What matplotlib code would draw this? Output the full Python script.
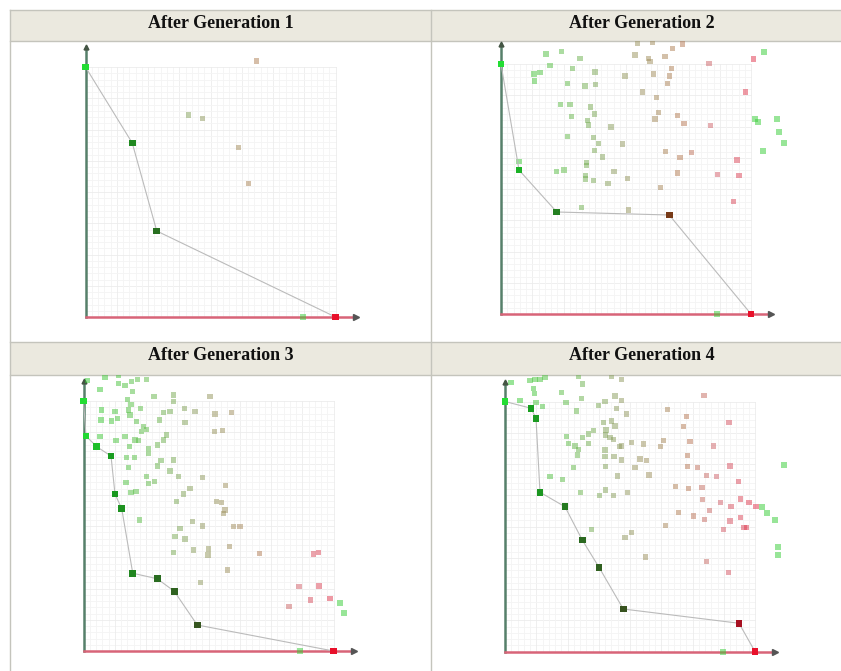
import matplotlib.pyplot as plt
import matplotlib.colors as mcolors
from matplotlib.patches import Rectangle
import numpy as np

titles = ["After Generation 1", "After Generation 2", "After Generation 3", "After Generation 4"]

# objective values, both normalised to 0..100
front1_x = [0, 18.7, 28.5, 100]
front1_y = [100, 69.6, 34.4, 0]
pop1_x = [68.5, 41.1, 46.7, 61.1, 65.3]
pop1_y = [102.4, 80.8, 79.3, 67.7, 53.5]
extra1_x = [87]
extra1_y = [0]

front2_x = [0, 7.2, 22.3, 67.3, 100]
front2_y = [100, 57.6, 40.8, 39.6, 0]
pop2_x = [54.5, 60.5, 68.5, 72.5, 18.0, 24.3, 31.6, 53.6, 58.9, 59.6, 65.6, 83.2, 100.9, 19.6,
          28.7, 13.2, 15.6, 13.3, 37.6, 49.6, 60.9, 67.3, 68.3, 26.5, 33.6, 37.9, 56.5, 66.5,
          62.3, 97.9, 23.9, 27.6, 35.7, 37.5, 28.3, 63.1, 70.5, 61.6, 34.5, 34.9, 44.0, 73.2,
          83.9, 26.7, 36.9, 38.9, 48.5, 37.3, 40.5, 65.7, 71.6, 76.3, 34.3, 34.3, 22.3, 25.2,
          33.7, 33.7, 36.9, 42.8, 45.2, 50.5, 70.5, 86.5, 95.2, 94.4, 63.7, 93.1, 32.3, 50.9, 7.2]
pop2_y = [108.3, 108.5, 106.1, 108.0, 104.0, 104.9, 102.1, 103.6, 102.3, 100.9, 102.9, 100.3, 102.0, 99.3,
          98.3, 96.0, 96.5, 93.2, 96.8, 95.2, 96.0, 95.2, 98.3, 92.3, 91.2, 91.7, 88.8, 92.3,
          86.7, 88.8, 83.7, 83.7, 82.8, 80.0, 78.9, 80.7, 79.5, 78.0, 77.3, 75.6, 74.8, 76.3,
          75.3, 70.9, 70.5, 68.3, 68.0, 65.3, 62.8, 64.9, 62.7, 64.7, 60.7, 59.3, 56.9, 57.6,
          55.3, 54.0, 53.5, 52.3, 57.1, 54.1, 56.4, 55.7, 55.3, 61.6, 50.7, 44.9, 42.7, 41.6, 61.0]
extra2_x = [105.3, 101.6, 102.9, 110.3, 111.3, 113.3, 104.7, 86.5]
extra2_y = [104.9, 78.0, 76.9, 78.0, 72.7, 68.3, 65.2, 0]

front3_x = [0, 1.0, 5.3, 11.0, 12.6, 15.3, 19.7, 29.5, 36.3, 45.5, 100]
front3_y = [100, 86.0, 81.7, 78.0, 62.8, 56.9, 31.1, 28.9, 23.9, 10.4, 0]
pop3_x = [1.5, 8.6, 13.9, 19.3, 21.5, 25.3, 6.6, 13.9, 16.6, 19.7, 28.2, 35.9, 50.6, 17.7,
          19.0, 22.9, 35.9, 40.3, 44.6, 52.6, 59.3, 7.3, 12.6, 13.5, 17.9, 18.6, 11.3, 7.0,
          21.3, 23.9, 25.3, 23.3, 30.3, 31.9, 34.6, 40.6, 33.3, 31.9, 29.7, 21.9, 20.6, 16.6,
          13.0, 6.6, 18.3, 17.3, 20.3, 17.9, 25.9, 25.9, 31.0, 35.9, 29.5, 34.6, 37.9, 25.3,
          28.3, 25.9, 17.0, 19.0, 21.0, 47.5, 52.3, 55.7, 56.9, 42.6, 39.9, 37.3, 53.3, 55.3,
          55.9, 56.6, 22.3, 43.7, 47.7, 38.6, 59.9, 62.6, 36.6, 40.6, 35.9, 43.9, 49.9, 49.8,
          58.3, 70.3, 91.9, 93.9, 57.7, 46.9, 86.2, 94.2, 90.9, 98.6, 82.2]
pop3_y = [108.1, 109.5, 110.1, 107.7, 108.7, 108.7, 104.7, 107.1, 106.1, 103.7, 101.7, 102.4, 101.7, 100.7,
          98.7, 97.1, 99.7, 97.1, 95.7, 94.8, 95.3, 96.4, 95.7, 93.1, 96.4, 94.4, 92.0, 92.4,
          91.7, 89.7, 88.7, 87.7, 92.4, 95.3, 95.7, 91.3, 86.4, 84.4, 82.4, 84.1, 84.4, 85.7,
          84.1, 85.7, 81.7, 77.5, 77.5, 73.3, 81.1, 79.1, 76.1, 76.4, 74.0, 72.0, 69.7, 69.7,
          67.7, 67.1, 67.5, 63.3, 63.7, 69.3, 87.7, 88.1, 66.1, 65.1, 62.8, 59.7, 59.9, 59.3,
          55.1, 56.4, 52.4, 51.7, 50.0, 49.1, 49.7, 49.7, 45.7, 44.8, 39.5, 40.4, 40.8, 38.4,
          41.7, 39.1, 38.8, 39.5, 32.4, 27.5, 25.7, 26.0, 20.4, 21.1, 17.7]
extra3_x = [102.6, 104.3, 86.6]
extra3_y = [19.3, 15.3, 0]

front4_x = [0, 10.4, 12.4, 14.0, 24.0, 30.9, 37.6, 47.3, 93.6, 100]
front4_y = [100, 97.3, 93.3, 63.7, 57.9, 44.6, 33.7, 17.0, 11.3, 0]
pop4_x = [2.4, 10, 12, 14, 16, 11.3, 11.7, 6, 12.4, 15.1, 22.7, 24.4, 29.3, 31.1, 30.7, 28.7,
          40, 42.7, 46.7, 44, 46.7, 44.7, 37.3, 48.7, 39.3, 42.7, 44, 40.4, 40.3, 35.3, 33.3,
          31.1, 24.7, 25.3, 28, 29.3, 29.1, 33.3, 42, 43.3, 45.7, 46.7, 50.7, 55.3, 40, 40,
          43.6, 46.7, 54, 56.7, 52, 40.3, 27.3, 18, 23.1, 45.1, 57.6, 30.3, 37.7, 40.3, 43.3,
          49.1, 34.7, 48, 50.7, 56.3, 63.3, 62.3, 65.1, 72.7, 71.3, 74, 83.3, 79.6, 89.6, 73.1,
          73.1, 77.1, 90, 80.7, 84.7, 93.3, 68.3, 73.3, 78.8, 79.1, 86.3, 90.4, 94.3, 97.6,
          100.4, 81.7, 75.3, 69.5, 79.9, 90, 94.3, 87.3, 95.6, 96.7, 64.3, 80.5, 89.3]
pop4_y = [107.7, 108.3, 108.9, 108.9, 109.5, 105.3, 103.3, 100.3, 99.5, 97.9, 103.5, 99.5, 110.2, 107.0, 101.3, 96.2,
          99.9, 109.9, 108.9, 102.2, 100.3, 97.3, 98.3, 95.0, 91.5, 92.2, 90.2, 88.6, 86.6, 88.3, 87.0,
          85.7, 85.9, 83.3, 82.2, 80.9, 78.6, 83.3, 85.5, 84.9, 81.9, 82.2, 83.5, 83.0, 80.6, 77.9,
          77.9, 76.6, 77.0, 76.3, 73.7, 73.9, 73.5, 69.9, 68.9, 70.2, 70.6, 63.5, 62.3, 64.6, 62.3,
          63.7, 48.9, 45.5, 47.5, 37.8, 84.3, 82.0, 96.9, 93.9, 89.9, 83.9, 82.2, 102.3, 91.5, 78.3,
          73.9, 73.5, 74.2, 70.3, 69.9, 67.9, 65.9, 65.3, 65.7, 60.9, 59.7, 57.9, 61.0, 59.7,
          57.9, 56.3, 54.2, 55.7, 52.9, 52.2, 53.7, 48.9, 49.7, 49.7, 50.3, 35.9, 31.5]
extra4_x = [102.7, 104.9, 108, 111.6, 109.3, 109.3, 87.3]
extra4_y = [57.9, 55.3, 52.6, 74.6, 41.9, 38.6, 0]

panels = [
    (front1_x, front1_y, pop1_x, pop1_y, extra1_x, extra1_y),
    (front2_x, front2_y, pop2_x, pop2_y, extra2_x, extra2_y),
    (front3_x, front3_y, pop3_x, pop3_y, extra3_x, extra3_y),
    (front4_x, front4_y, pop4_x, pop4_y, extra4_x, extra4_y),
]

W, H = 841, 671
SCALE = 2.5  # pixels per objective unit
# pixel position of each panel origin, and the header bottom above it
origins = [(85.5, 317), (501, 314), (83.5, 651), (505, 651.5)]
header_bottoms = [41, 41, 375, 375]
title_pos = [(221, 27.5), (641.5, 27.5), (221, 360.5), (641.5, 360.5)]

pop_cmap = mcolors.LinearSegmentedColormap.from_list("pop", [
    (0.0, "#2ecc2e"), (0.25, "#5cba45"), (0.45, "#8c9a5c"), (0.6, "#a08c5a"),
    (0.72, "#b47850"), (0.85, "#d0606a"), (1.0, "#e03048")])
front_cmap = mcolors.LinearSegmentedColormap.from_list("front", [
    (0.0, "#22dd33"), (0.1, "#18a020"), (0.3, "#2a6a20"), (0.5, "#3a5020"),
    (0.68, "#7a3a18"), (0.93, "#a01020"), (1.0, "#e8102a")])


def draw_table(bg):
    line_col = "#c4c4bc"
    for top, bottom in [(10, 41), (342, 375)]:
        bg.add_patch(Rectangle((10, top), W, bottom - top, facecolor="#ebe9df", edgecolor="none"))
        bg.plot([10, W], [top, top], color=line_col, lw=1)
        bg.plot([10, W], [bottom, bottom], color=line_col, lw=1)
    bg.plot([10, 10], [10, H], color=line_col, lw=1)
    bg.plot([431, 431], [10, H], color=line_col, lw=1)
    for title, (tx, ty) in zip(titles, title_pos):
        bg.text(tx, ty, title, ha="center", va="baseline", fontsize=13, fontweight="bold",
                family="Liberation Serif", color="#111111")


def draw_panel(fig, origin, header_bottom, data):
    front_x, front_y, pop_x, pop_y, extra_x, extra_y = data
    ox, oy = origin
    xmin, xmax = -12, 122
    ymin, ymax = -8, (oy - header_bottom) / SCALE
    left = ox + xmin * SCALE
    bottom = H - (oy - ymin * SCALE)
    ax = fig.add_axes([left / W, bottom / H, (xmax - xmin) * SCALE / W, (ymax - ymin) * SCALE / H])
    ax.set_xlim(xmin, xmax)
    ax.set_ylim(ymin, ymax)
    ax.axis("off")

    # background grid, very faint
    for v in np.arange(0, 100.1, 2.5):
        col = "#ececec" if v % 12.5 == 0 else "#f4f4f4"
        ax.plot([v, v], [0, 100], color=col, lw=0.6, zorder=1)
        ax.plot([0, 100], [v, v], color=col, lw=0.6, zorder=1)

    # axes with arrows
    ax.plot([0, 0], [0, 108], color="#56806a", lw=1.8, zorder=2)
    ax.plot([0], [108], marker="^", color="#445544", markersize=3.5, zorder=2)
    ax.plot([0, 108], [0, 0], color="#d86478", lw=1.8, zorder=2)
    ax.plot([108], [0], marker=">", color="#555555", markersize=4.5, zorder=2)

    ax.scatter(pop_x, pop_y, c=pop_x, cmap=pop_cmap, vmin=0, vmax=100, marker="s", s=13,
               alpha=0.5, linewidths=0, zorder=3)
    ax.scatter(extra_x, extra_y, color="#33cc33", marker="s", s=13, alpha=0.5, linewidths=0, zorder=3)

    ax.plot(front_x, front_y, color="#bbbbbb", lw=0.8, zorder=4)
    ax.scatter(front_x, front_y, c=front_x, cmap=front_cmap, vmin=0, vmax=100, marker="s", s=24,
               linewidths=0, zorder=5)
    return ax


fig = plt.figure(figsize=(W / 100, H / 100), dpi=100)
bg = fig.add_axes([0, 0, 1, 1])
bg.set_xlim(0, W)
bg.set_ylim(H, 0)
bg.axis("off")
draw_table(bg)

for origin, header_bottom, data in zip(origins, header_bottoms, panels):
    draw_panel(fig, origin, header_bottom, data)

fig.savefig("out.png", dpi=100, facecolor="white")
